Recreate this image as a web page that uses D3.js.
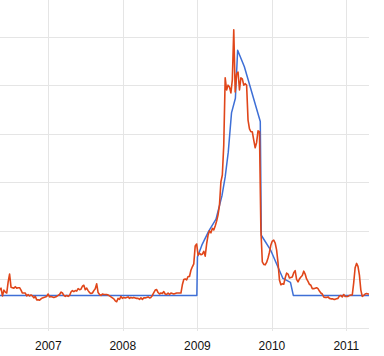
<!DOCTYPE html>
<html>
<head>
<meta charset="utf-8">
<script src="https://cdn.jsdelivr.net/npm/d3@7"></script>
<style>
  body { margin: 0; background: #fff; }
  svg { display: block; }
</style>
</head>
<body>
<div id="chart"></div>
<script>
// years on the x axis
const years = ["2007", "2008", "2009", "2010", "2011"];
// horizontal gridline values
const gridValues = [0, 10, 20, 30, 40, 50, 60, 70];

// weekly series (red), first week starts 2006-05-07
const searchStart = "2006-05-07";
const searchValues = [
  7.8, 8.2, 6.6, 7.8, 7.4, 7.2, 9.5, 11.1, 8.4, 8.3,
  8.2, 8.5, 8.2, 8.3, 8.3, 7.8, 7.2, 7.2, 7.2, 6.6,
  6.9, 6.6, 6.8, 6.6, 6.2, 6.5, 5.8, 5.8, 5.7, 6.0,
  6.2, 6.3, 6.4, 6.5, 7.0, 6.4, 6.5, 6.4, 6.3, 6.4,
  6.5, 6.7, 6.9, 7.4, 7.2, 6.7, 6.5, 6.7, 6.5, 6.7,
  7.4, 7.7, 7.5, 7.7, 7.6, 8.1, 7.9, 8.0, 8.6, 8.8,
  7.9, 8.2, 7.7, 7.3, 7.1, 7.2, 7.7, 8.1, 9.1, 7.3,
  6.9, 6.7, 7.0, 6.9, 6.9, 6.9, 6.8, 6.6, 6.4, 6.2,
  6.0, 5.6, 5.4, 6.1, 5.9, 6.5, 6.1, 6.3, 6.2, 6.3,
  6.4, 6.1, 6.3, 6.2, 6.3, 6.2, 6.1, 6.1, 5.9, 6.2,
  5.9, 6.2, 6.2, 6.3, 6.4, 6.2, 6.3, 6.7, 7.3, 7.8,
  7.9, 7.3, 7.0, 7.2, 7.1, 7.5, 7.0, 6.9, 7.2, 6.9,
  7.2, 7.1, 7.0, 7.1, 7.2, 7.2, 7.2, 7.2, 8.9, 10.0,
  10.1, 9.9, 10.6, 10.6, 11.9, 12.6, 13.2, 16.9, 17.3, 15.0,
  15.4, 15.1, 15.2, 15.8, 14.8, 17.3, 19.1, 20.0, 19.6, 20.5,
  20.2, 21.0, 22.0, 23.3, 25.3, 30.1, 31.5, 37.7, 51.5, 49.0,
  50.0, 49.6, 48.4, 51.1, 61.4, 48.6, 52.3, 52.7, 49.0, 51.5,
  51.3, 50.0, 50.3, 50.0, 42.8, 41.0, 40.4, 40.4, 38.7, 37.1,
  38.2, 40.6, 40.4, 20.2, 13.6, 13.1, 13.0, 13.5, 14.4, 15.6,
  17.1, 17.9, 18.1, 17.5, 16.1, 13.4, 9.9, 8.9, 9.1, 9.0,
  10.3, 11.3, 11.1, 10.3, 10.4, 10.5, 11.4, 11.8, 10.0, 9.5,
  10.1, 10.5, 10.8, 11.7, 11.1, 10.1, 9.6, 9.0, 8.8, 8.1,
  8.1, 8.2, 8.3, 8.1, 7.6, 7.2, 7.0, 6.4, 6.3, 6.3,
  6.4, 6.1, 6.0, 6.0, 5.9, 5.9, 6.0, 6.1, 6.6, 6.7,
  6.4, 6.9, 6.5, 6.5, 6.5, 6.7, 6.8, 6.8, 9.3, 12.4,
  13.3, 12.7, 10.9, 7.8, 6.5, 6.7, 7.0, 7.1, 7.0, 7.0
];

// second series (blue)
const newsDates = [
  "2006-05-07", "2008-12-29", "2009-01-01", "2009-01-23", "2009-02-26",
  "2009-04-02", "2009-05-01", "2009-05-17", "2009-06-01", "2009-06-17",
  "2009-07-06", "2009-07-17", "2009-08-19", "2009-11-05", "2009-11-10",
  "2009-12-25", "2010-02-24", "2010-04-02", "2010-04-16", "2011-04-24"
];
const newsValues = [
  6.7, 6.7, 14.6, 17.1, 20.0,
  22.4, 27.2, 31.1, 36.2, 44.3,
  47.3, 57.2, 53.8, 42.5, 19.1,
  16.1, 10.2, 9.4, 6.7, 6.7
];

const width = 384;
const height = 356;
const plotW = 369;
const plotH = 331;

const parse = d3.timeParse("%Y-%m-%d");

const x = d3.scaleTime()
  .domain([new Date(2006, 4, 9), new Date(2011, 3, 22)])
  .range([0, plotW]);

const y = d3.scaleLinear()
  .domain([0, 70])
  .range([328, -12]);

const t0 = parse(searchStart);
const search = searchValues.map((v, i) => ({ date: d3.timeDay.offset(t0, i * 7), value: v }));
const news = newsDates.map((d, i) => ({ date: parse(d), value: newsValues[i] }));

const svg = d3.create("svg")
  .attr("width", width)
  .attr("height", height)
  .attr("viewBox", `0 0 ${width} ${height}`);

svg.append("defs").append("clipPath")
  .attr("id", "plot")
  .append("rect")
  .attr("x", 0).attr("y", 0)
  .attr("width", plotW).attr("height", plotH);

// gridlines
svg.append("g")
  .attr("stroke", "#e5e5e5")
  .attr("shape-rendering", "crispEdges")
  .selectAll("line")
  .data(gridValues)
  .join("line")
    .attr("x1", 0)
    .attr("x2", plotW)
    .attr("y1", d => Math.round(y(d)) + 0.5)
    .attr("y2", d => Math.round(y(d)) + 0.5);

const yearDates = years.map(s => new Date(+s, 0, 1));

svg.append("g")
  .attr("stroke", "#e5e5e5")
  .attr("shape-rendering", "crispEdges")
  .selectAll("line")
  .data(yearDates)
  .join("line")
    .attr("x1", d => Math.round(x(d)) + 0.5)
    .attr("x2", d => Math.round(x(d)) + 0.5)
    .attr("y1", 0)
    .attr("y2", plotH);

// series
const line = d3.line()
  .x(d => x(d.date))
  .y(d => y(d.value));

const lines = svg.append("g").attr("clip-path", "url(#plot)");

lines.append("path")
  .datum(news)
  .attr("fill", "none")
  .attr("stroke", "#3e6fd6")
  .attr("stroke-width", 1.5)
  .attr("stroke-linejoin", "round")
  .attr("d", line);

lines.append("path")
  .datum(search)
  .attr("fill", "none")
  .attr("stroke", "#e0461a")
  .attr("stroke-width", 1.6)
  .attr("stroke-linejoin", "round")
  .attr("d", line);

// year labels
svg.append("g")
  .style("font", "12px 'Liberation Sans', Arial, sans-serif")
  .attr("fill", "#111")
  .attr("text-anchor", "middle")
  .selectAll("text")
  .data(yearDates)
  .join("text")
    .attr("x", d => x(d))
    .attr("y", 350)
    .text((d, i) => years[i]);

document.getElementById("chart").appendChild(svg.node());
</script>
</body>
</html>
